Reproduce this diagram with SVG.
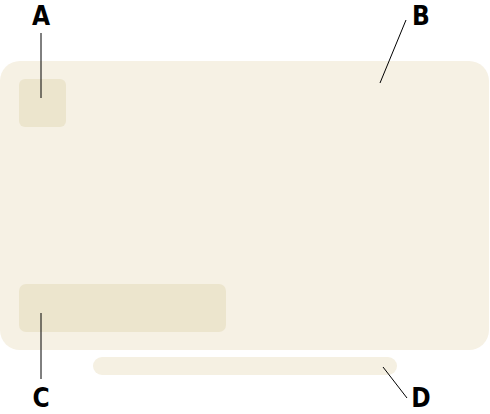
<svg xmlns="http://www.w3.org/2000/svg" width="490" height="414" viewBox="0 0 490 414">
<style>
.lbl{font-family:"DejaVu Sans Condensed","Liberation Sans Narrow",sans-serif;font-weight:bold;font-size:26px;fill:#000;text-anchor:middle}
.ln{stroke:#000;stroke-width:1;fill:none}
</style>
<rect width="490" height="414" fill="#fff"/>
<g id="B"><rect x="0" y="61" width="489" height="289" rx="20" fill="#f6f1e4"/></g>
<g id="A"><rect x="19" y="79" width="47" height="48" rx="6" fill="#ece5cd"/></g>
<g id="C"><rect x="19" y="284" width="207" height="48" rx="7" fill="#ece5cd"/></g>
<g id="D"><rect x="93" y="357" width="304" height="18" rx="9" fill="#f5f0e2"/></g>
<g id="connectors">
<line class="ln" x1="41" y1="33" x2="41" y2="98"/>
<line class="ln" x1="406" y1="20" x2="380" y2="83"/>
<line class="ln" x1="41" y1="313" x2="41" y2="379"/>
<line class="ln" x1="383" y1="367" x2="407" y2="398"/>
</g>
<g id="labels">
<text class="lbl" x="41" y="25">A</text>
<text class="lbl" x="421" y="25">B</text>
<text class="lbl" x="41" y="407">C</text>
<text class="lbl" x="421" y="407">D</text>
</g>
</svg>
